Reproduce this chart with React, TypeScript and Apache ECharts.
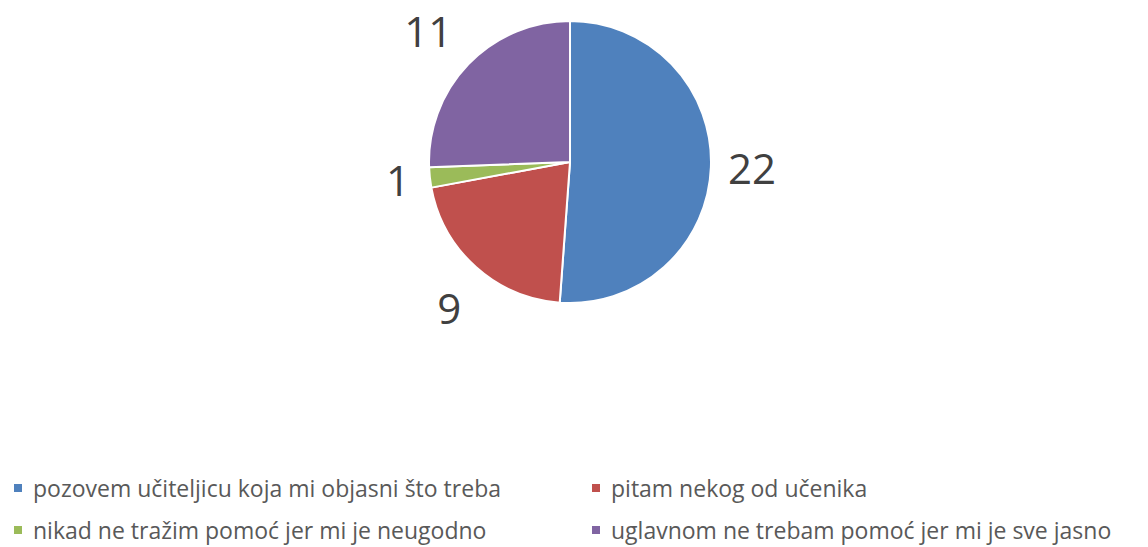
import React, { useEffect, useRef } from "react";
import * as echarts from "echarts";

const categories = [
  "pozovem učiteljicu koja mi objasni što treba",
  "pitam nekog od učenika",
  "nikad ne tražim pomoć jer mi je neugodno",
  "uglavnom ne trebam pomoć jer mi je sve jasno",
];
const values = [22, 9, 1, 11];
const colors = ["#4F81BD", "#C0504D", "#9BBB59", "#8064A2"];
// label line offsets (style only) to mimic Excel's "outside end" placement
const labelLen = [12, 55, 15, 49];
const labelLen2 = [0, -27, 0, -24];

export default function App() {
  const ref = useRef<HTMLDivElement>(null);
  useEffect(() => {
    if (!ref.current) return;
    const chart = echarts.init(ref.current, undefined, { renderer: "svg" });
    const legendText = {
      color: "#595959",
      fontSize: 23,
      fontFamily: "Open Sans",
      lineHeight: 24,
      padding: [0, 0, 0, 5],
    };
    const legendBase = {
      orient: "vertical",
      top: 476,
      padding: 0,
      itemWidth: 10,
      itemHeight: 10,
      itemGap: 18,
      icon: "rect",
      textStyle: legendText,
      selectedMode: false,
    };
    chart.setOption({
      animation: false,
      backgroundColor: "#ffffff",
      legend: [
        { ...legendBase, data: [categories[0], categories[2]], left: 12 },
        { ...legendBase, data: [categories[1], categories[3]], left: 590 },
      ],
      series: [
        {
          type: "pie",
          center: [570, 162],
          radius: 141,
          startAngle: 90,
          clockwise: true,
          avoidLabelOverlap: false,
          itemStyle: { borderColor: "#ffffff", borderWidth: 2 },
          label: {
            show: true,
            position: "outside",
            formatter: "{c}",
            color: "#404040",
            fontSize: 42,
            fontFamily: "Open Sans",
          },
          labelLine: { show: false },
          emphasis: { disabled: true },
          data: categories.map((name, i) => ({
            name,
            value: values[i],
            itemStyle: { color: colors[i] },
            labelLine: { show: false, length: labelLen[i], length2: labelLen2[i] },
          })),
        },
      ],
    });
    return () => chart.dispose();
  }, []);
  return (
    <div
      ref={ref}
      style={{ position: "absolute", left: 0, top: 0, width: 1148, height: 547 }}
    />
  );
}
